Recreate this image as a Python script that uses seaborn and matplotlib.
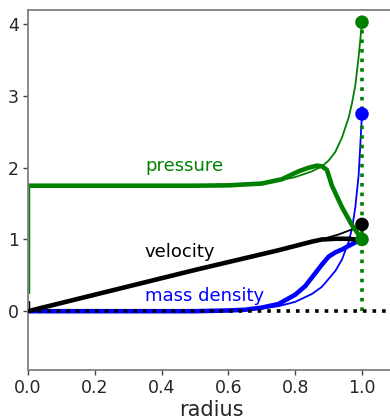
import matplotlib
matplotlib.use("Agg")
import matplotlib.pyplot as plt
import seaborn as sns
import pandas as pd

# ---- data ----
# thick (numerical) curves
p_thick_x = [0.0, 0.5, 0.6, 0.7, 0.76, 0.81, 0.84, 0.865, 0.88, 0.895, 0.91, 0.94, 0.97, 1.0]
p_thick_y = [1.75, 1.75, 1.755, 1.78, 1.84, 1.95, 2.0, 2.03, 2.02, 1.97, 1.75, 1.45, 1.2, 1.0]

v_thick_x = [0.0, 0.5, 0.75, 0.85, 0.88, 0.92, 0.96, 0.98, 1.0]
v_thick_y = [0.0, 0.575, 0.85, 0.97, 1.0, 1.01, 1.01, 1.0, 0.99]

d_thick_x = [0.0, 0.5, 0.6, 0.65, 0.7, 0.75, 0.8, 0.83, 0.86, 0.88, 0.9, 0.92, 0.94, 0.96, 0.98, 1.0]
d_thick_y = [0.0, 0.0, 0.01, 0.02, 0.05, 0.1, 0.23, 0.35, 0.53, 0.65, 0.76, 0.82, 0.86, 0.91, 0.96, 1.0]

# thin (analytic) curves
p_thin_x = [0.004, 0.004, 0.5, 0.6, 0.7, 0.75, 0.8, 0.85, 0.88, 0.9, 0.92, 0.94, 0.96, 0.97, 0.98, 0.99, 1.0]
p_thin_y = [0.25, 1.75, 1.75, 1.76, 1.79, 1.82, 1.87, 1.95, 2.02, 2.1, 2.22, 2.42, 2.7, 2.9, 3.15, 3.55, 4.03]

v_thin_x = [0.004, 0.004, 0.5, 0.75, 0.88, 0.9, 0.93, 0.97, 1.0]
v_thin_y = [0.13, 0.0, 0.575, 0.85, 1.0, 1.03, 1.07, 1.14, 1.21]

d_thin_x = [0.0, 0.5, 0.6, 0.7, 0.75, 0.8, 0.85, 0.88, 0.9, 0.92, 0.94, 0.96, 0.97, 0.98, 0.99, 1.0]
d_thin_y = [0.0, 0.0, 0.01, 0.04, 0.07, 0.13, 0.24, 0.34, 0.45, 0.56, 0.72, 0.97, 1.15, 1.45, 1.9, 2.75]

# end-point markers at the shell radius
dot_x = [1.0, 1.0, 1.0, 1.0]
dot_y = [4.03, 2.75, 1.21, 1.0]
dot_c = ["green", "blue", "black", "green"]

# reference lines
shell_x = [1.0, 1.0]
shell_y = [0.0, 4.03]
zero_x = [0.0, 1.1]
zero_y = [0.0, 0.0]

labels = ["pressure", "velocity", "mass density"]
label_x = [0.35, 0.35, 0.35]
label_y = [2.03, 0.82, 0.21]
label_c = ["green", "black", "blue"]

xticks = [0.0, 0.2, 0.4, 0.6, 0.8, 1.0]
yticks = [0, 1, 2, 3, 4]

# ---- figure ----
sns.set_style("white")
plt.rcParams["font.family"] = ["DejaVu Sans"]

fig = plt.figure(figsize=(3.9, 4.16), dpi=100)
ax = fig.add_axes([28 / 390, 46 / 416, 367.4 / 390, 360 / 416])

def line(x, y, color, lw, ls="-", z=2):
    df = pd.DataFrame({"x": x, "y": y})
    sns.lineplot(data=df, x="x", y="y", ax=ax, color=color, linewidth=lw,
                 linestyle=ls, sort=False, estimator=None, zorder=z)

line(d_thin_x, d_thin_y, "blue", 1.3)
line(v_thin_x, v_thin_y, "black", 1.3)
line(p_thin_x, p_thin_y, "green", 1.3)
line(d_thick_x, d_thick_y, "blue", 3.3)
line(v_thick_x, v_thick_y, "black", 3.3)
line(p_thick_x, p_thick_y, "green", 3.3)

line(shell_x, shell_y, "green", 2.6, ":", 3)
line(zero_x, zero_y, "black", 2.6, ":", 3)

ax.scatter(dot_x, dot_y, c=dot_c, s=95, zorder=5, edgecolors="none", clip_on=False)

for t, tx, ty, tc in zip(labels, label_x, label_y, label_c):
    ax.text(tx, ty, t, color=tc, fontsize=13, va="center", ha="left")

ax.set_xlim(0, 1.1)
ax.set_ylim(-0.82, 4.2)
ax.set_xticks(xticks)
ax.set_yticks(yticks)
ax.set_xticklabels([f"{v:.1f}" for v in xticks])
ax.set_yticklabels([str(v) for v in yticks])
ax.set_xlabel("radius", fontsize=15, labelpad=2)
ax.set_ylabel("")
ax.tick_params(axis="both", labelsize=12.5, direction="out", length=3.5,
               width=1, color="#444444", left=True, bottom=True, pad=3)
for s in ax.spines.values():
    s.set_color("#808080")
    s.set_linewidth(1.3)

fig.savefig("out.png", dpi=100)
